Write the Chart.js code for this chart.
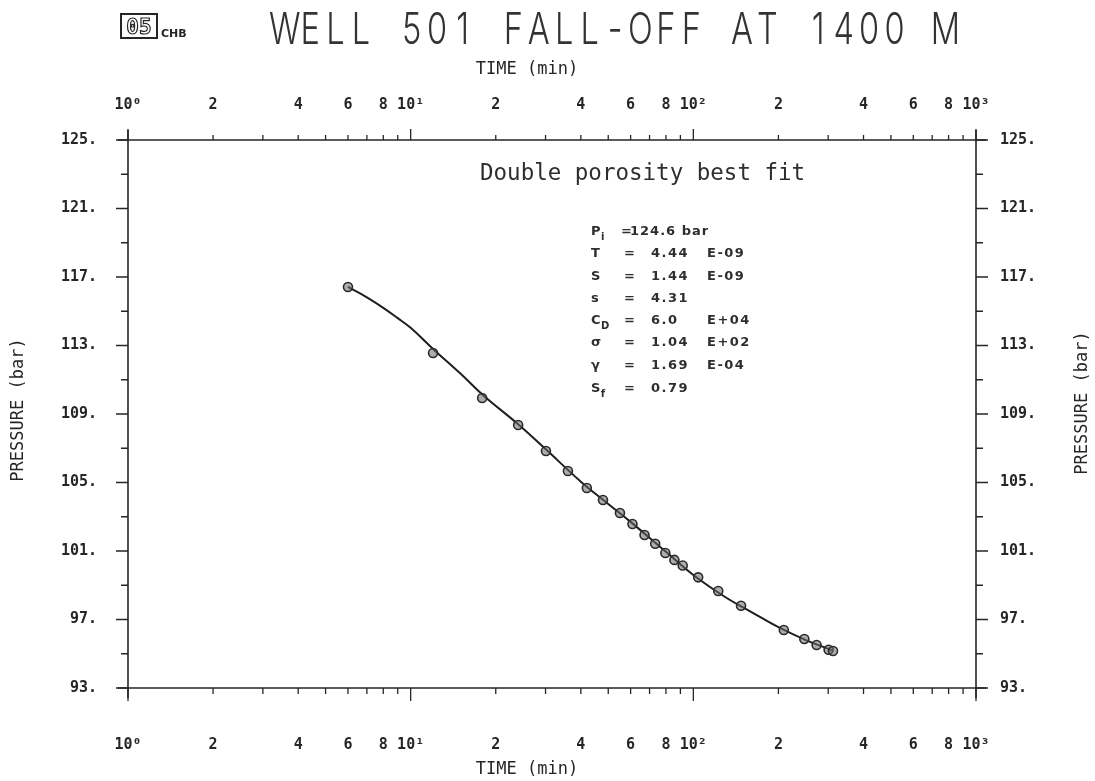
<!DOCTYPE html>
<html>
<head>
<meta charset="utf-8">
<script src="https://cdn.jsdelivr.net/npm/chart.js@4.4.1/dist/chart.umd.min.js"></script>
<style>
  html, body { margin: 0; padding: 0; background: #ffffff; }
  #wrap { width: 1095px; height: 781px; position: relative; }
</style>
</head>
<body>
<div id="wrap"><canvas id="c" width="1095" height="781"></canvas></div>
<script>
// ---------- data ----------
const obsTime = [6.0, 12.0, 17.9, 24.0, 30.1, 36.0, 42.0, 47.9, 55.0, 60.9, 67.2, 73.3, 79.6, 85.7, 91.7, 104, 122.5, 147.5, 209, 247, 273, 301, 312];
const obsPressure = [116.42, 112.56, 109.93, 108.36, 106.84, 105.67, 104.68, 103.98, 103.22, 102.58, 101.93, 101.42, 100.88, 100.48, 100.15, 99.46, 98.66, 97.80, 96.39, 95.86, 95.51, 95.23, 95.16];

const fitTime = [6, 7, 8, 9, 10, 12, 15, 18, 24, 30, 40, 50, 60, 80, 100, 130, 160, 200, 250, 310];
const fitPressure = [116.42, 115.81, 115.2, 114.6, 114.03, 112.8, 111.36, 110.11, 108.4, 106.95, 105.05, 103.75, 102.7, 100.95, 99.6, 98.3, 97.45, 96.55, 95.8, 95.2];

const xTickValues = [1,2,3,4,5,6,7,8,9,10,20,30,40,50,60,70,80,90,100,200,300,400,500,600,700,800,900,1000];
const xDecades = [1, 10, 100, 1000];
const xDecadeLabels = ['10\u2070', '10\u00B9', '10\u00B2', '10\u00B3'];
const xLabelledMantissas = [2, 4, 6, 8];

const yTickValues = [93,95,97,99,101,103,105,107,109,111,113,115,117,119,121,123,125];
const yLabelValues = [93, 97, 101, 105, 109, 113, 117, 121, 125];

const titleText = 'WELL 501 FALL-OFF AT 1400 M';
const xTitle = 'TIME (min)';
const yTitle = 'PRESSURE (bar)';
const fitNote = 'Double porosity best fit';
const paramRows = [
  ['P', 'i', '=', '124.6 bar', ''],
  ['T', '', '=', '4.44', 'E-09'],
  ['S', '', '=', '1.44', 'E-09'],
  ['s', '', '=', '4.31', ''],
  ['C', 'D', '=', '6.0', 'E+04'],
  ['\u03C3', '', '=', '1.04', 'E+02'],
  ['\u03B3', '', '=', '1.69', 'E-04'],
  ['S', 'f', '=', '0.79', '']
];

// ---------- helpers ----------
const INK = '#262626';
const tickFont = { family: 'DejaVu Sans Mono', size: 15, weight: 'bold' };

function isDecade(v) { return xDecades.some(d => Math.abs(d - v) < 1e-9); }
function xLabel(v) {
  const di = xDecades.findIndex(d => Math.abs(d - v) < 1e-9);
  if (di >= 0) return xDecadeLabels[di];
  const mant = Math.round(v / Math.pow(10, Math.floor(Math.log10(v) + 1e-9)));
  return xLabelledMantissas.includes(mant) ? String(mant) : '';
}
function yLabel(v) { return yLabelValues.includes(v) ? v + '.' : ''; }

function spacedText(ctx, text, x, y, spacing) {
  if ('letterSpacing' in ctx) {
    ctx.letterSpacing = spacing + 'px';
    ctx.fillText(text, x, y);
    ctx.letterSpacing = '0px';
  } else {
    ctx.fillText(text, x, y);
  }
}

const decor = {
  id: 'decor',
  afterDraw(chart) {
    const ctx = chart.ctx;
    const xs = chart.scales.x, ys = chart.scales.y;
    const L = chart.chartArea.left, R = chart.chartArea.right;
    const T = chart.chartArea.top, B = chart.chartArea.bottom;
    ctx.save();
    ctx.strokeStyle = INK;
    ctx.fillStyle = INK;
    ctx.lineCap = 'butt';

    // frame (lines run a little past the corners)
    ctx.lineWidth = 1.6;
    ctx.beginPath();
    ctx.moveTo(L - 10, B); ctx.lineTo(R + 10, B);
    ctx.moveTo(L - 10, T); ctx.lineTo(R + 10, T);
    ctx.moveTo(L, T - 10); ctx.lineTo(L, B + 10);
    ctx.moveTo(R, T - 10); ctx.lineTo(R, B + 10);
    ctx.stroke();

    // x ticks (bottom pointing down, top pointing up)
    ctx.lineWidth = 1.3;
    ctx.beginPath();
    xs.ticks.forEach(t => {
      const px = xs.getPixelForValue(t.value);
      const maj = isDecade(t.value);
      ctx.moveTo(px, B); ctx.lineTo(px, B + (maj ? 13 : 6));
      ctx.moveTo(px, T); ctx.lineTo(px, T - (maj ? 11 : 5));
    });
    // y ticks (left pointing left, right pointing right)
    ys.ticks.forEach(t => {
      const py = ys.getPixelForValue(t.value);
      const maj = yLabelValues.includes(t.value);
      ctx.moveTo(L, py); ctx.lineTo(L - (maj ? 12 : 7), py);
      ctx.moveTo(R, py); ctx.lineTo(R + (maj ? 12 : 7), py);
    });
    ctx.stroke();

    // main title: thin, narrow, fixed-pitch lettering
    ctx.fillStyle = '#333';
    ctx.textBaseline = 'alphabetic';
    ctx.textAlign = 'center';
    ctx.font = '300 44px Inter';
    const pitch = (958 - 272) / titleText.length;
    for (let i = 0; i < titleText.length; i++) {
      const ch = titleText[i];
      if (ch === ' ') continue;
      ctx.save();
      ctx.translate(272 + pitch * (i + 0.5), 44);
      ctx.scale(0.74, 1);
      ctx.fillText(ch, 0, 0);
      ctx.restore();
    }
    ctx.fillStyle = INK;

    // logo
    ctx.lineWidth = 2;
    ctx.strokeRect(121, 14, 36, 24);
    ctx.font = 'bold 21px "DejaVu Sans Mono"';
    ctx.lineWidth = 1.2;
    ctx.textAlign = 'center';
    ctx.strokeText('05', 139, 34);
    ctx.font = 'bold 11px "DejaVu Sans"';
    ctx.textAlign = 'left';
    ctx.fillText('CHB', 161, 37);

    // axis titles
    ctx.font = '17px "DejaVu Sans Mono"';
    ctx.textAlign = 'center';
    ctx.textBaseline = 'middle';
    ctx.fillText(xTitle, 527, 70);
    ctx.fillText(xTitle, 527, 770);
    ctx.save(); ctx.translate(19, 410); ctx.rotate(-Math.PI / 2); ctx.fillText(yTitle, 0, 0); ctx.restore();
    ctx.save(); ctx.translate(1083, 403); ctx.rotate(-Math.PI / 2); ctx.fillText(yTitle, 0, 0); ctx.restore();

    // annotation
    ctx.font = '22.5px "DejaVu Sans Mono"';
    ctx.textAlign = 'left';
    ctx.fillStyle = '#2e2e2e';
    ctx.fillText(fitNote, 480, 174);

    // parameter block
    const rowY = [232, 254, 277, 299, 321, 343, 366, 389];
    paramRows.forEach((r, i) => {
      const y = rowY[i];
      ctx.font = 'bold 13px "DejaVu Sans"';
      ctx.textBaseline = 'middle';
      ctx.fillText(r[0], 591, y);
      const w0 = ctx.measureText(r[0]).width;
      if (r[1]) {
        ctx.font = 'bold 10px "DejaVu Sans"';
        ctx.fillText(r[1], 591 + w0 + 0.5, y + 5);
      }
      ctx.font = 'bold 13px "DejaVu Sans"';
      if (i === 0) {
        ctx.fillText('=', 621, y);
        spacedText(ctx, r[3], 630, y, 1);
      } else {
        ctx.fillText('=', 624, y);
        spacedText(ctx, r[3], 651, y, 1.5);
        if (r[4]) spacedText(ctx, r[4], 707, y, 1.5);
      }
    });
    ctx.restore();
  }
};

const common = {
  grid: { display: false, drawTicks: false },
  border: { display: false }
};

new Chart(document.getElementById('c').getContext('2d'), {
  type: 'scatter',
  data: {
    datasets: [
      {
        label: 'Double porosity fit',
        data: fitTime.map((t, i) => ({ x: t, y: fitPressure[i] })),
        showLine: true,
        borderColor: '#1e1e1e',
        borderWidth: 2,
        pointRadius: 0,
        tension: 0.4,
        order: 2
      },
      {
        label: 'Measured',
        data: obsTime.map((t, i) => ({ x: t, y: obsPressure[i] })),
        showLine: false,
        pointRadius: 4.5,
        pointBackgroundColor: 'rgba(105,110,108,0.55)',
        pointBorderColor: '#2a2a2a',
        pointBorderWidth: 1.6,
        order: 1
      }
    ]
  },
  options: {
    responsive: false,
    animation: false,
    devicePixelRatio: 1,
    layout: { padding: 0 },
    plugins: { legend: { display: false }, tooltip: { enabled: false }, title: { display: false } },
    scales: {
      x: {
        ...common, type: 'logarithmic', position: 'bottom', min: 1, max: 1000,
        afterBuildTicks: s => { s.ticks = xTickValues.map(v => ({ value: v })); },
        afterFit: s => { s.height = 93; },
        ticks: { autoSkip: false, maxRotation: 0, minRotation: 0, padding: 48, font: tickFont, color: INK, callback: v => xLabel(v) }
      },
      x2: {
        ...common, type: 'logarithmic', position: 'top', min: 1, max: 1000,
        afterBuildTicks: s => { s.ticks = xTickValues.map(v => ({ value: v })); },
        afterFit: s => { s.height = 140; },
        ticks: { autoSkip: false, maxRotation: 0, minRotation: 0, padding: 26, font: tickFont, color: INK, callback: v => xLabel(v) }
      },
      y: {
        ...common, type: 'linear', position: 'left', min: 93, max: 125,
        afterBuildTicks: s => { s.ticks = yTickValues.map(v => ({ value: v })); },
        afterFit: s => { s.width = 128; },
        ticks: { autoSkip: false, padding: 31, font: tickFont, color: INK, callback: v => yLabel(v) }
      },
      y2: {
        ...common, type: 'linear', position: 'right', min: 93, max: 125,
        afterBuildTicks: s => { s.ticks = yTickValues.map(v => ({ value: v })); },
        afterFit: s => { s.width = 119; },
        ticks: { autoSkip: false, padding: 24, font: tickFont, color: INK, callback: v => yLabel(v) }
      }
    }
  },
  plugins: [decor]
});
</script>
</body>
</html>
